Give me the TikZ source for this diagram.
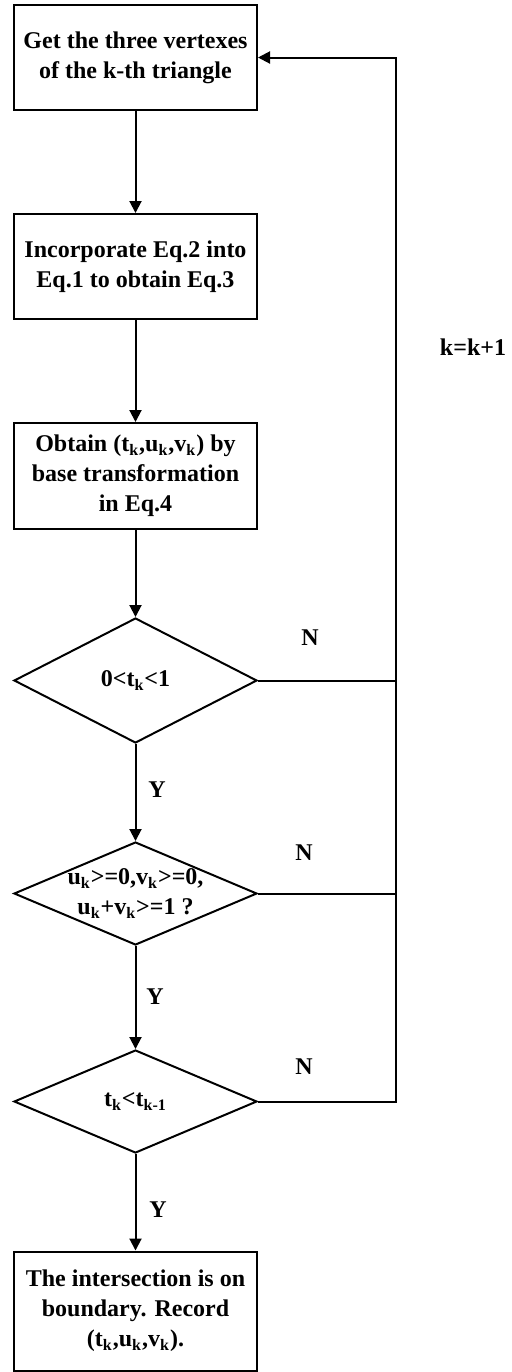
\documentclass[tikz,border=0pt]{standalone}
\usepackage{fontspec}
\setmainfont{Liberation Serif}
\usepackage{tikz}
\usetikzlibrary{shapes.geometric}
\usetikzlibrary{arrows.meta}

\begin{document}
\begin{tikzpicture}[x=0.5pt,y=-0.5pt,
        font=\bfseries\fontsize{12}{15}\selectfont,
        procbox/.style={draw,line width=1pt,rectangle,minimum width=121.5pt,minimum height=52.5pt,align=center,inner sep=0pt},
        decbox/.style={draw,line width=1pt,diamond,minimum width=121.5pt,align=center,inner sep=-12pt},
        flow/.style={line width=1pt,-{Triangle[length=6pt,width=6pt]}},
        link/.style={line width=1pt}]
            \useasboundingbox (0,0) rectangle (512,1372);

            % steps
            \node[procbox] (get) at (135.5,57.5) {Get the three vertexes\\of the k-th triangle};
            \node[procbox] (incorp) at (135.5,266.5) {Incorporate Eq.2 into\\Eq.1 to obtain Eq.3};
            \node[procbox,minimum height=53pt] (obtain) at (135.5,476) {Obtain (t\textsubscript{k},u\textsubscript{k},v\textsubscript{k}) by\\base transformation\\in Eq.4};

            % tests
            \node[decbox,minimum height=62.5pt] (testt) at (135.5,680.5) {0<t\textsubscript{k}<1};
            \node[decbox,minimum height=51.5pt] (testuv) at (135.5,893.5) {u\textsubscript{k}>=0,v\textsubscript{k}>=0,\\u\textsubscript{k}+v\textsubscript{k}>=1 ?};
            \node[decbox,minimum height=51.5pt] (testmin) at (135.5,1101.5) {t\textsubscript{k}<t\textsubscript{k-1}};

            % result
            \node[procbox,minimum height=59.5pt] (record) at (135.5,1311) {The intersection is on\\boundary. Record\\(t\textsubscript{k},u\textsubscript{k},v\textsubscript{k}).};

            % main flow
            \draw[flow] (get) -- (incorp);
            \draw[flow] (incorp) -- (obtain);
            \draw[flow] (obtain) -- (testt);
            \draw[flow] (testt) -- (testuv);
            \draw[flow] (testuv) -- (testmin);
            \draw[flow] (testmin) -- (record);

            % loop back
            \coordinate (back) at (396,0);
            \draw[link] (testt.east) -- (testt.east -| back);
            \draw[link] (testuv.east) -- (testuv.east -| back);
            \draw[flow] (testmin.east) -- (testmin.east -| back) |- (get.east);

            % labels
            \node (n1) at (310,638) {N};
            \node (n2) at (304,853) {N};
            \node (n3) at (304,1067) {N};
            \node (y1) at (157,790) {Y};
            \node (y2) at (155,997) {Y};
            \node (y3) at (158,1210) {Y};
            \node (inc) at (473,347) {k=k+1};
        \end{tikzpicture}
\end{document}
